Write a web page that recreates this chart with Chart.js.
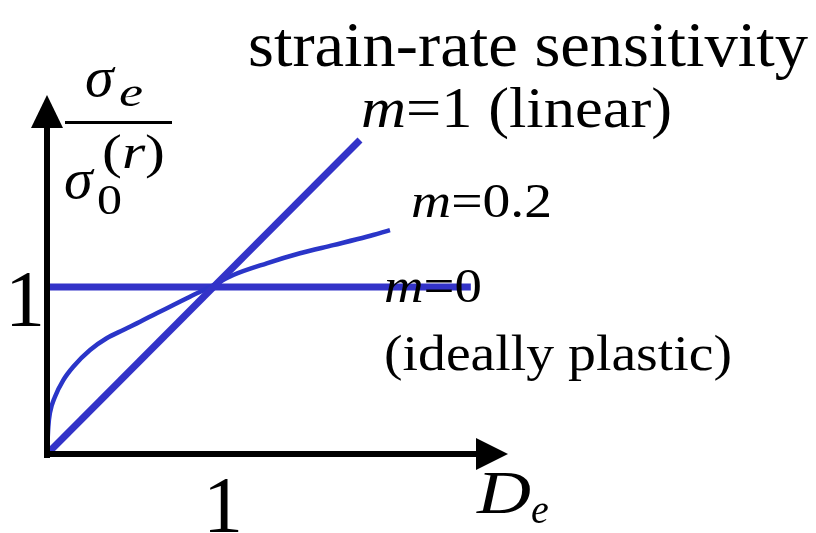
<!DOCTYPE html>
<html>
<head>
<meta charset="utf-8">
<script src="https://cdn.jsdelivr.net/npm/chart.js@4"></script>
<style>
  body { margin: 0; background: #fff; }
  canvas { display: block; }
</style>
</head>
<body>
<canvas id="myChart" width="816" height="533"></canvas>
<script>
// values (D_e on x, sigma_e / sigma_0 on y)
var linearX = [0, 1.92];
var linearY = [0, 1.88];

var powerX = [0, 0.008, 0.018, 0.049, 0.10, 0.161, 0.264, 0.366, 0.468, 0.571, 0.673, 0.775, 0.877, 1.0, 1.143, 1.348, 1.552, 1.756, 1.961, 2.104];
var powerY = [0, 0.163, 0.246, 0.343, 0.443, 0.523, 0.623, 0.693, 0.743, 0.792, 0.843, 0.892, 0.942, 1.0, 1.072, 1.142, 1.202, 1.251, 1.301, 1.341];

var plasticX = [0, 2.6];
var plasticY = [1, 1];

var xTicks = [1];
var yTicks = [1];

var blue = '#3333c8';
var serif = '"Liberation Serif", "Times New Roman", serif';

function pts(xs, ys) {
    return xs.map(function (x, i) { return { x: x, y: ys[i] }; });
}

// draw a run of text pieces, squeezed/stretched to a given width
function txt(ctx, parts, x, y, width) {
    ctx.save();
    var total = 0;
    parts.forEach(function (p) { ctx.font = p.f; total += ctx.measureText(p.t).width; });
    var sx = width ? width / total : 1;
    ctx.translate(x, y);
    ctx.scale(sx, 1);
    var cx = 0;
    parts.forEach(function (p) {
        ctx.font = p.f;
        ctx.fillText(p.t, cx, p.dy || 0);
        cx += ctx.measureText(p.t).width;
    });
    ctx.restore();
}

var sketch = {
    id: 'sketch',
    afterDatasetsDraw: function (chart) {
        var ctx = chart.ctx;
        var xs = chart.scales.x, ys = chart.scales.y;
        var x0 = xs.getPixelForValue(0), y0 = ys.getPixelForValue(0);
        var xEnd = xs.right, yEnd = ys.top;

        ctx.save();
        ctx.fillStyle = '#000';
        ctx.strokeStyle = '#000';
        ctx.lineWidth = 6;
        // axes
        ctx.beginPath();
        ctx.moveTo(x0, y0 + 4);
        ctx.lineTo(x0, yEnd + 30);
        ctx.moveTo(x0 - 3, y0);
        ctx.lineTo(xEnd - 30, y0);
        ctx.stroke();
        // arrow heads
        ctx.beginPath();
        ctx.moveTo(x0, yEnd);
        ctx.lineTo(x0 - 16, yEnd + 33);
        ctx.lineTo(x0 + 16, yEnd + 33);
        ctx.closePath();
        ctx.fill();
        ctx.beginPath();
        ctx.moveTo(xEnd, y0);
        ctx.lineTo(xEnd - 32, y0 - 16);
        ctx.lineTo(xEnd - 32, y0 + 16);
        ctx.closePath();
        ctx.fill();

        ctx.textBaseline = 'alphabetic';
        // tick labels
        ctx.textAlign = 'center';
        ctx.font = '80px ' + serif;
        xTicks.forEach(function (v) {
            ctx.fillText(String(v), xs.getPixelForValue(v) + 13, 532);
        });
        yTicks.forEach(function (v) {
            ctx.fillText(String(v), 25, ys.getPixelForValue(v) + 39);
        });
        ctx.textAlign = 'left';

        // axis titles
        txt(ctx, [{ t: 'D', f: 'italic 61px ' + serif }], 477, 513, 54);
        txt(ctx, [{ t: 'e', f: 'italic 40px ' + serif }], 531, 523);

        txt(ctx, [{ t: 'σ', f: 'italic 58px ' + serif }], 85, 96);
        txt(ctx, [{ t: 'e', f: 'italic 42px ' + serif }], 119, 106, 24);
        ctx.fillRect(65, 121, 107, 3);
        txt(ctx, [{ t: 'σ', f: 'italic 58px ' + serif }], 64, 198);
        txt(ctx, [{ t: '0', f: '42px ' + serif }], 97, 214, 25);
        txt(ctx, [{ t: '(', f: '48px ' + serif }, { t: 'r', f: 'italic 48px ' + serif }, { t: ')', f: '48px ' + serif }], 102, 168, 63);

        // heading and curve labels
        txt(ctx, [{ t: 'strain-rate sensitivity', f: '64px ' + serif }], 248, 66, 560);
        txt(ctx, [{ t: 'm', f: 'italic 56px ' + serif }, { t: '=1 (linear)', f: '56px ' + serif }], 361, 127, 311);
        txt(ctx, [{ t: 'm', f: 'italic 48px ' + serif }, { t: '=0.2', f: '48px ' + serif }], 411, 217, 141);
        txt(ctx, [{ t: 'm', f: 'italic 48px ' + serif }, { t: '=0', f: '48px ' + serif }], 384, ys.getPixelForValue(1) + 15, 98);
        txt(ctx, [{ t: '(ideally plastic)', f: '50px ' + serif }], 384, 370, 348);
        ctx.restore();
    }
};

var ctx = document.getElementById('myChart').getContext('2d');
var myChart = new Chart(ctx, {
    type: 'scatter',
    data: {
        datasets: [{
            label: 'm=1 (linear)',
            data: pts(linearX, linearY),
            showLine: true,
            borderColor: blue,
            borderWidth: 7,
            pointRadius: 0,
            clip: false
        }, {
            label: 'm=0.2',
            data: pts(powerX, powerY),
            showLine: true,
            cubicInterpolationMode: 'monotone',
            borderColor: '#2a35c8',
            borderWidth: 4.5,
            pointRadius: 0,
            clip: false
        }, {
            label: 'm=0',
            data: pts(plasticX, plasticY),
            showLine: true,
            borderColor: blue,
            borderWidth: 7,
            pointRadius: 0,
            clip: false
        }]
    },
    options: {
        responsive: false,
        devicePixelRatio: 1,
        animation: false,
        layout: { padding: { left: 47, top: 95, right: 308, bottom: 79 } },
        plugins: { legend: { display: false }, tooltip: { enabled: false } },
        scales: {
            x: { type: 'linear', min: 0, max: 2.828, display: false },
            y: { type: 'linear', min: 0, max: 2.15, display: false }
        }
    },
    plugins: [sketch]
});
</script>
</body>
</html>
